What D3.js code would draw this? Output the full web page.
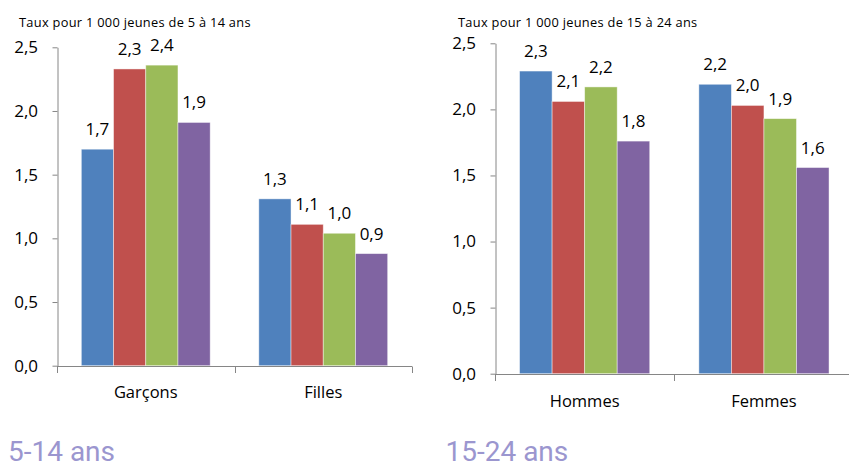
<!DOCTYPE html>
<html lang="fr">
<head>
<meta charset="utf-8">
<title>Taux pour 1 000 jeunes</title>
<script src="https://cdn.jsdelivr.net/npm/d3@7"></script>
<style>
  html, body { margin: 0; padding: 0; background: #ffffff; }
  svg { display: block; }
  text { font-family: "Open Sans", "Noto Sans", sans-serif; fill: #000; }
  .subtitle { font-family: Roboto, "Noto Sans", sans-serif; font-weight: 400; fill: #9b96cf; }
</style>
</head>
<body>
<svg id="chart" width="849" height="464"></svg>
<script>
// Four series per group, same colour order in both panels
const seriesColors = ["#4f81bd", "#c0504d", "#9bbb59", "#8064a2"];

// 5-14 ans
const groupsYoung = ["Garçons", "Filles"];
const valuesYoung = [
  [1.70, 2.33, 2.36, 1.91],
  [1.31, 1.11, 1.04, 0.88]
];

// 15-24 ans
const groupsOlder = ["Hommes", "Femmes"];
const valuesOlder = [
  [2.29, 2.06, 2.17, 1.76],
  [2.19, 2.03, 1.93, 1.56]
];

const yTicks = [0, 0.5, 1.0, 1.5, 2.0, 2.5];
const titles = ["Taux pour 1 000 jeunes de 5 à 14 ans", "Taux pour 1 000 jeunes de 15 à 24 ans"];
const subtitles = ["5-14 ans", "15-24 ans"];

// Panel layout (pixels)
const panels = [
  { groups: groupsYoung, values: valuesYoung, title: titles[0], subtitle: subtitles[0],
    x0: 57, x1: 412, yTop: 47.3, yBottom: 365.7, titleX: 19, subX: 8, catY: 397.7 },
  { groups: groupsOlder, values: valuesOlder, title: titles[1], subtitle: subtitles[1],
    x0: 495, x1: 853.6, yTop: 43.3, yBottom: 373.7, titleX: 458, subX: 445.5, catY: 406.7 }
];

const fmt = v => d3.format(".1f")(v).replace(".", ",");
const axisColor = "#868686";
const svg = d3.select("#chart");

panels.forEach(p => {
  const g = svg.append("g");

  const y = d3.scaleLinear().domain([0, 2.5]).range([p.yBottom, p.yTop]);
  const xGroup = d3.scaleBand().domain(p.groups).range([p.x0, p.x1]).padding(0);
  const xBar = d3.scaleBand().domain(d3.range(seriesColors.length))
    .range([0, xGroup.bandwidth()]).paddingInner(0).paddingOuter(0.755);

  // Title above the value axis
  g.append("text")
    .attr("x", p.titleX).attr("y", 26.7)
    .style("font-size", "12.8px")
    .style("letter-spacing", "0.3px")
    .text(p.title);

  // Value axis
  const yAxis = d3.axisLeft(y).tickValues(yTicks).tickFormat(fmt)
    .tickSize(5).tickSizeOuter(0).tickPadding(14.5);
  const ya = g.append("g").attr("transform", `translate(${Math.round(p.x0) + 0.5},0)`).call(yAxis);
  ya.select(".domain").attr("stroke", axisColor);
  ya.selectAll(".tick line").attr("stroke", axisColor);
  ya.selectAll(".tick text").style("font-size", "17px").attr("fill", "#000")
    .style("font-family", '"Open Sans", sans-serif');

  // Bars
  p.groups.forEach((grp, gi) => {
    const gg = g.append("g").attr("transform", `translate(${xGroup(grp)},0)`);
    gg.selectAll("rect").data(p.values[gi]).join("rect")
      .attr("x", (d, i) => xBar(i))
      .attr("y", d => y(d))
      .attr("width", xBar.bandwidth())
      .attr("height", d => y(0) - y(d))
      .attr("fill", (d, i) => seriesColors[i])
      .attr("stroke", "rgba(255,255,255,0.55)")
      .attr("stroke-width", 0.8);
    gg.selectAll("text").data(p.values[gi]).join("text")
      .attr("x", (d, i) => xBar(i) + xBar.bandwidth() / 2)
      .attr("y", d => y(d) - 14)
      .attr("text-anchor", "middle")
      .style("font-size", "17px")
      .text(fmt);
  });

  // Category axis: baseline with ticks at band boundaries
  const yb = Math.round(p.yBottom) + 0.5;
  g.append("line")
    .attr("x1", p.x0).attr("x2", p.x1)
    .attr("y1", yb).attr("y2", yb)
    .attr("stroke", axisColor);
  const bounds = p.groups.map(d => xGroup(d)).concat([p.x1]);
  g.selectAll(".ctick").data(bounds).join("line")
    .attr("class", "ctick")
    .attr("x1", d => Math.round(d) + 0.5).attr("x2", d => Math.round(d) + 0.5)
    .attr("y1", yb).attr("y2", yb + 6.5)
    .attr("stroke", axisColor);
  g.selectAll(".clabel").data(p.groups).join("text")
    .attr("class", "clabel")
    .attr("x", d => xGroup(d) + xGroup.bandwidth() / 2)
    .attr("y", p.catY)
    .attr("text-anchor", "middle")
    .style("font-size", "16.5px")
    .text(d => d);

  // Age band heading under the panel
  g.append("text")
    .attr("class", "subtitle")
    .attr("x", p.subX).attr("y", 461)
    .style("font-size", "28px")
    .text(p.subtitle);
});
</script>
</body>
</html>
